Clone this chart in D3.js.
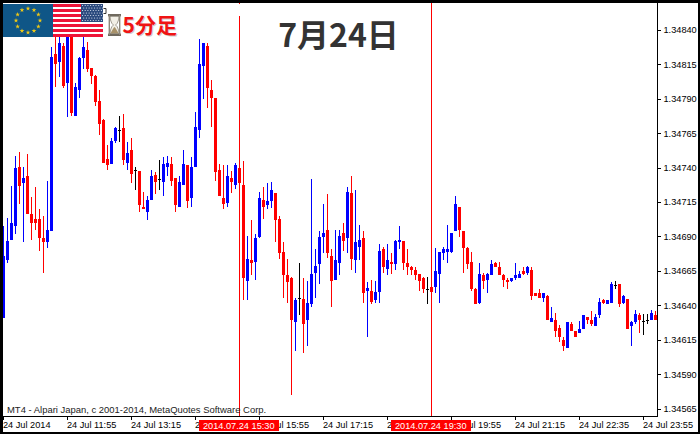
<!DOCTYPE html>
<html>
<head>
<meta charset="utf-8">
<script src="https://cdn.jsdelivr.net/npm/d3@7"></script>
<style>
html, body { margin: 0; padding: 0; background: #fff; }
svg { display: block; }
text { font-family: "Liberation Sans", sans-serif; }
</style>
</head>
<body>
<svg id="chart" width="700" height="434"></svg>
<script>
// EURUSD M5, 24 Jul 2014. Prices are points above 1.34000
var opens = [631,673,688,698,741,729,734,707,703,703,
689,686,694,823,817,829,802,836,778,797,
820,826,813,807,789,775,747,743,760,768,
769,744,753,739,738,712,708,717,735,732,
730,741,743,733,712,728,742,718,741,768,
814,829,797,791,739,718,715,733,728,740,
728,658,673,672,690,717,713,716,722,703,
679,662,660,628,646,645,630,641,664,670,
690,695,676,659,671,693,689,722,673,683,
689,651,651,644,650,681,667,672,670,686,
687,671,668,666,663,660,652,654,654,663,
678,679,679,694,712,694,682,672,652,642,
662,659,662,671,668,662,659,658,660,660,
665,664,666,649,649,646,647,628,630,624,
615,609,627,622,620,623,632,630,625,633,
644,641,642,655,656,642,645,625,628,633,
629,630,630,633];
var closes = [676,687,700,740,727,733,707,700,700,689,
686,695,821,816,831,800,837,780,799,820,
828,812,807,788,772,744,742,760,769,768,
746,751,736,739,713,710,717,734,730,732,
743,744,731,713,730,743,716,741,770,816,
831,798,791,737,720,714,734,730,742,729,
660,674,671,689,718,712,716,724,702,678,
662,657,630,644,646,627,642,663,669,690,
693,678,658,673,691,687,723,674,686,688,
649,653,643,650,680,668,673,670,687,688,
671,668,666,662,658,652,652,650,665,679,
681,681,693,714,695,682,670,652,641,663,
658,663,670,668,662,659,657,660,662,663,
663,668,647,647,646,649,630,631,622,617,
611,628,622,617,623,633,630,627,632,643,
642,644,656,655,641,647,623,628,634,630,
629,630,635,630];
var highs = [698,704,727,749,752,741,750,719,726,710,
705,731,828,835,835,831,837,836,802,821,
835,832,813,808,797,776,757,762,770,778,
779,759,762,741,738,723,720,739,737,746,
748,749,748,733,734,753,742,748,781,834,
831,831,804,791,743,742,742,738,744,744,
745,691,702,692,723,726,729,730,722,705,
686,674,661,646,671,660,658,732,681,694,
714,721,681,695,695,700,726,734,724,699,
694,657,659,658,685,683,685,678,688,698,
687,681,669,668,663,661,661,657,682,679,
683,699,693,720,712,694,683,679,653,671,
664,664,673,672,672,663,660,660,671,665,
668,669,668,649,652,649,648,639,635,626,
617,628,628,622,629,633,632,636,634,646,
645,644,657,658,656,648,645,629,637,635,
634,634,637,636];
var lows = [631,671,688,692,714,686,707,688,695,680,
664,682,694,799,806,798,777,778,778,791,
812,810,801,785,764,744,739,743,758,759,
742,739,729,724,708,710,702,717,721,724,
720,734,727,708,712,728,711,712,741,762,
790,784,770,731,720,710,712,722,725,724,
644,644,662,659,689,703,710,711,686,674,
646,642,575,607,633,606,611,639,646,656,
678,675,639,659,662,680,678,666,664,673,
642,617,641,642,642,664,662,663,666,681,
666,662,662,659,651,649,641,649,649,642,
673,671,678,694,690,664,667,651,641,641,
652,649,662,668,662,654,652,657,659,660,
662,662,644,647,646,643,630,628,617,614,
607,609,622,617,620,623,627,625,625,631,
641,641,642,652,639,641,623,611,627,620,
619,627,630,630];

var priceTicks = [840,815,790,765,740,715,690,665,640,615,590,565];
var timeTickBars = [0,16,32,48,64,80,96,112,128,144,160];
var timeTickLabels = ["24 Jul 2014","24 Jul 11:55","24 Jul 13:15","24 Jul 14:35","24 Jul 15:55","24 Jul 17:15","24 Jul 18:35","24 Jul 19:55","24 Jul 21:15","24 Jul 22:35","24 Jul 23:55"];
var markerBars = [59,107];
var markerLabels = ["2014.07.24 15:30","2014.07.24 19:30"];

var svg = d3.select("#chart");
var xScale = d3.scaleLinear().domain([0, opens.length - 1]).range([3.5, 655.5]);
var yScale = d3.scaleLinear().domain([840, 565]).range([30.5, 409]);
var labelSize = 9.2;

function candleColor(i) {
    if (closes[i] > opens[i]) return "#0000ff";
    if (closes[i] < opens[i]) return "#ff0000";
    return "#000000";
}

function drawCandles() {
    var g = svg.append("g").attr("shape-rendering", "crispEdges");
    var bars = g.selectAll("g").data(d3.range(opens.length)).join("g");

    bars.append("rect")
        .attr("x", i => xScale(i) - 0.5)
        .attr("width", 1)
        .attr("y", i => Math.round(yScale(highs[i])))
        .attr("height", i => Math.round(yScale(lows[i])) - Math.round(yScale(highs[i])))
        .attr("fill", candleColor);

    bars.append("rect")
        .attr("x", i => xScale(i) - 1.5)
        .attr("width", 3)
        .attr("y", i => Math.round(yScale(Math.max(opens[i], closes[i]))))
        .attr("height", i => {
            if (opens[i] == closes[i]) return 1;
            var h = Math.round(yScale(Math.min(opens[i], closes[i]))) - Math.round(yScale(Math.max(opens[i], closes[i])));
            return Math.max(h, 2);
        })
        .attr("fill", candleColor);
}

function drawMarkers() {
    svg.append("g").attr("shape-rendering", "crispEdges")
        .selectAll("rect").data(markerBars).join("rect")
        .attr("x", d => xScale(d) - 0.5)
        .attr("width", 1)
        .attr("y", 3)
        .attr("height", 413)
        .attr("fill", "#ff0000");
    // the pasted title picture has a white ground and hides the top of the first line
    svg.append("rect").attr("x", 236).attr("y", 4).attr("width", 8).attr("height", 12).attr("fill", "#fff");
}

function drawAxes() {
    var yAxis = d3.axisRight(yScale)
        .tickValues(priceTicks)
        .tickFormat(d => (1.34 + d / 100000).toFixed(5))
        .tickSize(3)
        .tickPadding(3)
        .offset(0);
    var yG = svg.append("g").attr("transform", "translate(657.5,0)").call(yAxis);
    yG.select(".domain").attr("d", "M0,3V416");
    yG.selectAll("text").attr("font-size", labelSize).attr("font-family", "Liberation Sans").attr("fill", "#000");

    var xAxis = d3.axisBottom(xScale)
        .tickValues(timeTickBars)
        .tickFormat((d, i) => timeTickLabels[i])
        .tickSize(3)
        .tickPadding(2)
        .offset(0);
    var xG = svg.append("g").attr("transform", "translate(0,416.5)").call(xAxis);
    xG.select(".domain").attr("d", "M3,0H657.5");
    xG.selectAll("text").attr("text-anchor", "start").attr("font-size", labelSize).attr("font-family", "Liberation Sans").attr("fill", "#000").attr("dx", -0.5);
    svg.selectAll(".tick line, .domain").attr("shape-rendering", "crispEdges").attr("stroke", "#000");

    var boxes = svg.append("g").selectAll("g").data(markerBars).join("g")
        .attr("transform", d => "translate(" + (xScale(d) - 40.5) + ",420)");
    boxes.append("rect").attr("width", 80).attr("height", 11).attr("fill", "#ff0000").attr("shape-rendering", "crispEdges");
    boxes.append("text")
        .attr("x", 4).attr("y", 9)
        .attr("font-size", labelSize)
        .attr("fill", "#fff")
        .text((d, i) => markerLabels[i]);
}

function drawFrame() {
    var frame = svg.append("g").attr("fill", "#000").attr("shape-rendering", "crispEdges");
    frame.append("rect").attr("width", 3).attr("height", 434);
    frame.append("rect").attr("width", 700).attr("height", 3);
    frame.append("rect").attr("x", 698).attr("width", 2).attr("height", 434);
    frame.append("rect").attr("y", 432).attr("width", 700).attr("height", 2);
}

function drawBadge() {
    var g = svg.append("g");
    // EU flag
    g.append("rect").attr("x", 3).attr("y", 4).attr("width", 50).attr("height", 33).attr("fill", "#0f5687");
    g.selectAll("path.star").data(d3.range(12)).join("path")
        .attr("class", "star")
        .attr("d", d3.symbol().type(d3.symbolStar).size(7))
        .attr("fill", "#f0c814")
        .attr("transform", d => {
            var a = d * Math.PI / 6;
            return "translate(" + (28 + 12 * Math.sin(a)) + "," + (20.5 - 12 * Math.cos(a)) + ")";
        });
    // US flag
    g.append("rect").attr("x", 53).attr("y", 4).attr("width", 50).attr("height", 33).attr("fill", "#fff");
    g.selectAll("rect.stripe").data(d3.range(7)).join("rect")
        .attr("class", "stripe")
        .attr("x", 53).attr("y", d => 4 + d * 33 / 6.5)
        .attr("width", 50).attr("height", 33 / 13)
        .attr("fill", "#ee1438")
        .attr("shape-rendering", "crispEdges");
    g.append("rect").attr("x", 81).attr("y", 4).attr("width", 22).attr("height", 18).attr("fill", "#2b4a7e");
    for (var r = 0; r < 7; r++) {
        for (var c = 0; c < 8; c++) {
            g.append("circle").attr("cx", 82.5 + c * 2.7 + (r % 2) * 1.2).attr("cy", 5.5 + r * 2.5).attr("r", 0.6).attr("fill", "#dfe6f2");
        }
    }
    g.append("path").attr("d", "M103.5,8.5H106V13.5H103.5").attr("fill", "none").attr("stroke", "#333");

    // hourglass
    var h = svg.append("g");
    h.append("path").attr("d", "M110,16H119L118.5,20Q117.5,24 115.5,25Q117.5,26 118.5,30L119,34H110L110.5,30Q111.5,26 113.5,25Q111.5,24 110.5,20Z")
        .attr("fill", "#f2efe6").attr("stroke", "#8a8578").attr("stroke-width", 0.8);
    h.append("path").attr("d", "M110.5,33.5Q113,28 114.5,27Q116,28 118.5,33.5Z").attr("fill", "#a8926a");
    h.append("rect").attr("x", 108).attr("y", 14).attr("width", 13).attr("height", 2.4).attr("fill", "#6f695e");
    h.append("rect").attr("x", 108).attr("y", 33.6).attr("width", 13).attr("height", 2.4).attr("fill", "#6f695e");
    h.append("rect").attr("x", 108.6).attr("y", 15).attr("width", 1.4).attr("height", 20).attr("fill", "#8d877b");
    h.append("rect").attr("x", 119).attr("y", 15).attr("width", 1.4).attr("height", 20).attr("fill", "#8d877b");

    svg.append("text").attr("x", 123.5).attr("y", 33.5)
        .style("font-family", "'Noto Sans CJK JP'").style("font-weight", 700).attr("font-size", 21)
        .attr("fill", "#cfcfcf").text("5分足");
    svg.append("text").attr("x", 122.5).attr("y", 32.5)
        .style("font-family", "'Noto Sans CJK JP'").style("font-weight", 700).attr("font-size", 21)
        .attr("fill", "#f01414").text("5分足");
}

function drawTexts() {
    svg.append("text").attr("x", 338.5).attr("y", 47)
        .attr("text-anchor", "middle")
        .style("font-family", "'Noto Sans CJK JP'").style("font-weight", 700).attr("font-size", 32)
        .attr("fill", "#333333")
        .text("7月24日");
    svg.append("text").attr("x", 7).attr("y", 412.5)
        .attr("font-size", 9.45)
        .attr("fill", "#222")
        .text("MT4 - Alpari Japan, c 2001-2014, MetaQuotes Software Corp.");
}

svg.append("rect").attr("width", 700).attr("height", 434).attr("fill", "#fff");
drawCandles();
drawMarkers();
drawAxes();
drawTexts();
drawFrame();
drawBadge();
</script>
</body>
</html>
